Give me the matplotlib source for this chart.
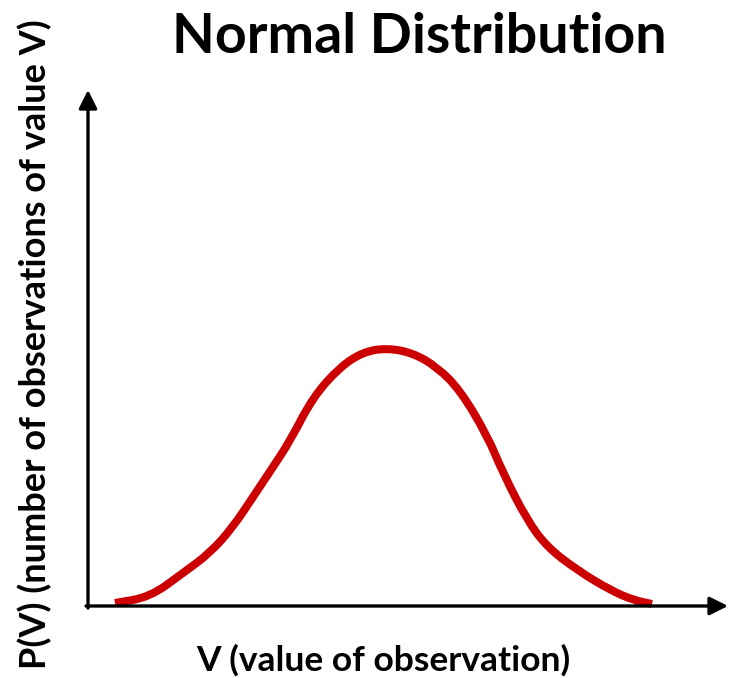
import matplotlib
matplotlib.use("Agg")
import matplotlib.pyplot as plt
from matplotlib.path import Path
from matplotlib.patches import PathPatch
import numpy as np

# Values (V: value, P: count), in arbitrary units
V = [27, 62, 95, 122, 145, 165, 185, 202, 225, 252, 275, 299, 325, 349, 372, 399, 415, 439, 459, 489, 522, 545, 564]
P = [3, 9, 33, 53, 79, 109, 139, 165, 209, 239, 254, 258, 253, 239, 216, 171, 133, 86, 59, 36, 16, 6, 2]

title = "Normal Distribution"
xlabel = "V (value of observation)"
ylabel = "P(V) (number of observations of value V)"

plt.rcParams['font.family'] = ['Lato', 'DejaVu Sans']

fig = plt.figure(figsize=(7.31, 6.78), dpi=100)
ax = fig.add_axes([0, 0, 1, 1])
ax.set_xlim(-88, 731 - 88)
ax.set_ylim(606 - 678, 606)
ax.axis('off')

# axes with arrows
ax.annotate('', xy=(640, 0), xytext=(-2, 0),
            arrowprops=dict(arrowstyle='-|>,head_length=1.1,head_width=0.55', lw=2.4, color='black',
                            shrinkA=0, shrinkB=0))
ax.annotate('', xy=(0, 516), xytext=(0, -2),
            arrowprops=dict(arrowstyle='-|>,head_length=1.1,head_width=0.55', lw=2.4, color='black',
                            shrinkA=0, shrinkB=0))

# smooth curve drawn as a quadratic-Bezier path through the read points
pts = np.column_stack([V, P]).astype(float)
verts = [pts[0], (pts[0] + pts[1]) / 2]
codes = [Path.MOVETO, Path.LINETO]
for i in range(1, len(pts) - 1):
    verts += [pts[i], (pts[i] + pts[i + 1]) / 2]
    codes += [Path.CURVE3, Path.CURVE3]
verts.append(pts[-1])
codes.append(Path.LINETO)
ax.add_patch(PathPatch(Path(verts, codes), facecolor='none', edgecolor='#CC0000',
                       lw=5.8, capstyle='butt', joinstyle='round'))

fig.text(419 / 731, 1 - 37 / 678, title, ha='center', va='center', fontsize=40, fontweight='bold')
fig.text(383 / 731, 1 - 660 / 678, xlabel, ha='center', va='center', fontsize=25.5, fontweight='bold')
fig.text(35 / 731, 1 - 344 / 678, ylabel, ha='center', va='center', fontsize=26, fontweight='bold', rotation=90)

fig.savefig('out.png', dpi=100)
